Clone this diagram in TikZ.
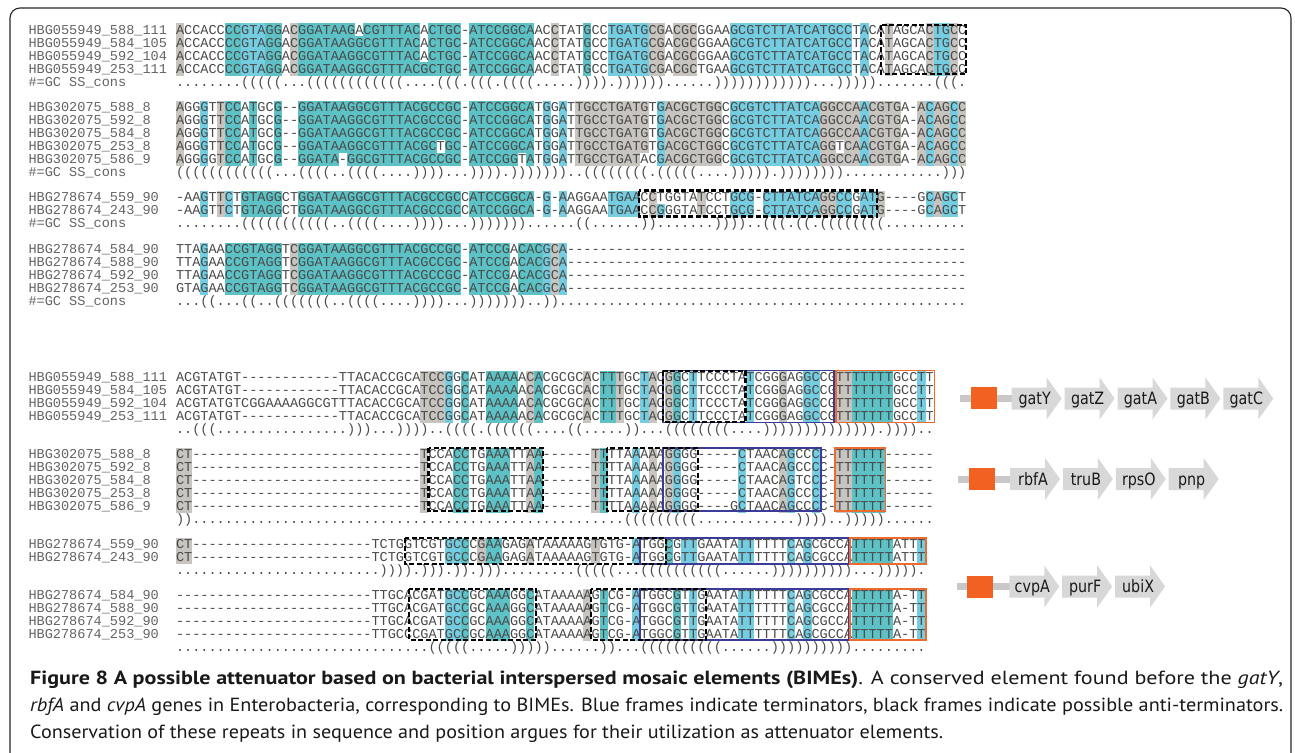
\documentclass[tikz,border=0pt]{standalone}
\usepackage{fontspec}
\setmonofont{Liberation Mono}
\newfontfamily\capfont{PT Sans}
\newfontfamily\genefont{DejaVu Sans}[FakeStretch=0.84]
\usepackage{graphicx}
\usetikzlibrary{calc}

\ExplSyntaxOn
\cs_new:Npn \seqrep #1#2 { \prg_replicate:nn {#1} {#2} }
\ExplSyntaxOff

\definecolor{shg}{HTML}{C8C5C1}
\definecolor{sht}{HTML}{5CC2C5}
\definecolor{shc}{HTML}{74CDE0}
\definecolor{shw}{HTML}{FFFFFF}
\definecolor{seqgrey}{HTML}{4A4A4A}
\definecolor{lblgrey}{HTML}{646464}
\definecolor{frameblue}{HTML}{3B3B98}
\definecolor{frameorange}{HTML}{EE6B2E}
\definecolor{genegrey}{HTML}{D8D8D8}
\definecolor{linegrey}{HTML}{C8C8C8}
\definecolor{boxorange}{HTML}{F26122}

\newcommand{\seqx}{175.8}
\newcommand{\cellw}{8.15}

\tikzset{
  seqtxt/.style={anchor=base west, inner sep=0pt, font=\ttfamily\fontsize{13.58}{14}\selectfont, text=seqgrey, yshift=-4.3pt},
  seqlbl/.style={seqtxt, text=lblgrey},
  antiframe/.style={draw=black, line width=2.2pt, dash pattern=on 5pt off 2.5pt},
  termframe/.style={draw=frameblue, line width=1.8pt},
  tailframe/.style={draw=frameorange, line width=1.8pt},
  genelbl/.style={anchor=base, inner sep=0pt, font=\genefont\fontsize{17}{17}\selectfont, text=black!90},
  caption/.style={anchor=base west, inner sep=0pt, font=\capfont\fontsize{19}{22}\selectfont, text=black!90},
}

% shading of alignment columns: top, bottom, list of colour/from/to
\newcommand{\shadecols}[3]{\foreach \clr/\ca/\cb in {#3} {\fill[sh\clr] (\seqx+\ca*\cellw,#1) rectangle (\seqx+\cb*\cellw+\cellw,#2);}}
\newcommand{\shadecell}[3]{\fill[sh#1] (\seqx+#2*\cellw,#3-6.5) rectangle ++(\cellw,13);}
% one alignment line: name, y, label, text
\newcommand{\seqline}[4]{%
  \node[seqlbl] (#1-id) at (28.3,#2) {#3};
  \node[seqtxt] (#1-seq) at (\seqx,#2) {#4};}
% gene arrows: y, first x, genes
\newcommand{\generow}[3]{%
  \foreach \g [count=\i from 0] in {#3} {
    \pgfmathsetmacro\gx{#2+52.9*\i}
    \fill[genegrey] (\gx,#1-11) -- ++(35,0) -- ++(0,-10) -- (\gx+50,#1) -- (\gx+35,#1+21) -- ++(0,-10) -- (\gx,#1+11) -- cycle;
    \node[genelbl] (\g) at (\gx+23,#1+6.2) {\g};
  }}
\newlength\fitw
\newcommand{\fitline}[2]{\settowidth{\fitw}{#2}\pgfmathsetmacro\fitsx{#1/\fitw}\scalebox{\fitsx}[1]{#2}}

\begin{document}
\begin{tikzpicture}[x=1pt,y=-1pt]
\useasboundingbox (0,0) rectangle (1295,752);
\fill[white] (0,0) rectangle (1295,752);
\draw[black!85, line width=1.1pt, rounded corners=10pt] (10,8) rectangle (1291,775);

% top alignments
\shadecols{23.5}{75.5}{g/0/0, t/6/7, c/8/10, t/11/12, g/14/14, t/15/29, t/31/34, t/36/43, g/46/46, t/50/50, c/53/57, g/58/59, g/61/63, c/68/82, c/84/84, g/87/87, g/92/92, c/93/94, g/95/95}
\shadecell{w}{22}{30}
\shadecell{t}{30}{69}
\shadecols{100.5}{165.5}{g/0/0, c/3/3, g/5/5, t/6/7, t/9/9, t/12/12, t/15/34, t/36/43, c/45/45, c/47/47, g/49/57, c/59/59, g/60/66, c/68/78, g/79/83, c/84/84, g/85/88, g/91/91, c/92/92, g/93/94, c/95/95, g/96/96}
\shadecell{w}{32}{146}
\shadecell{w}{81}{146}
\shadecell{w}{20}{159}
\shadecell{w}{42}{159}
\shadecell{w}{57}{159}
\shadecols{190.5}{216.5}{c/3/3, g/5/5, c/6/6, t/8/12, t/15/34, t/36/43, c/45/45, c/47/47, c/53/56, g/58/58, g/64/64, c/68/70, c/72/78, g/79/80, c/81/82, c/84/85, g/86/86, c/92/92, g/93/93, c/94/95}
\shadecell{c}{59}{210}
\shadecols{242.5}{294.5}{c/3/3, t/6/12, g/14/14, t/15/34, t/36/40, t/42/44, c/45/45, g/46/46, c/47/47}

\seqline{a1}{30}{HBG055949\_588\_111}{ACCACCCCGTAGGACGGATAAGACGTTTACACTGC-ATCCGGCAACCTATGCCTGATGCGACGCGGAAGCGTCTTATCATGCCTACATAGCACTGCC}
\seqline{a2}{43}{HBG055949\_584\_105}{ACCACCCCGTAGGACGGATAAGGCGTTTACACTGC-ATCCGGCAACCTATGCCTGATGCGACGCGGAAGCGTCTTATCATGCCTACATAGCACTGCC}
\seqline{a3}{56}{HBG055949\_592\_104}{ACCACCCCGTAGGACGGATAAGGCGTTTACACTGC-ATCCGGCAACCTATGCCTGATGCGACGCGGAAGCGTCTTATCATGCCTACATAGCACTGCC}
\seqline{a4}{69}{HBG055949\_253\_111}{ACCACCCCGTAGGACGGATAAGGCGTTTACGCTGC-ATCCGGCAACCTATGCCTGATGCGACGCTGAAGCGTCTTATCATGCCTACATAGCACTGCC}
\seqline{a5}{82}{\#=GC SS\_cons}{........(((((...((((((((((((....(((.(((.((((.....)))).))))))......))))))))))))...))))).......(((.}

\seqline{b1}{107}{HBG302075\_588\_8}{AGGGTTCCATGCG--GGATAAGGCGTTTACGCCGC-ATCCGGCATGGATTGCCTGATGTGACGCTGGCGCGTCTTATCAGGCCAACGTGA-ACAGCC}
\seqline{b2}{120}{HBG302075\_592\_8}{AGGGTTCCATGCG--GGATAAGGCGTTTACGCCGC-ATCCGGCATGGATTGCCTGATGTGACGCTGGCGCGTCTTATCAGGCCAACGTGA-ACAGCC}
\seqline{b3}{133}{HBG302075\_584\_8}{AGGGTTCCATGCG--GGATAAGGCGTTTACGCCGC-ATCCGGCATGGATTGCCTGATGTGACGCTGGCGCGTCTTATCAGGCCAACGTGA-ACAGCC}
\seqline{b4}{146}{HBG302075\_253\_8}{AGGGTTCCATGCG--GGATAAGGCGTTTACGCTGC-ATCCGGCATGGATTGCCTGATGTGACGCTGGCGCGTCTTATCAGGTCAACGTGA-ACAGCC}
\seqline{b5}{159}{HBG302075\_586\_9}{AGGGGTCCATGCG--GGATA-GGCGTTTACGCCGC-ATCCGGTATGGATTGCCTGATACGACGCTGGCGCGTCTTATCAGGCCAACGTGA-ACAGCC}
\seqline{b6}{172}{\#=GC SS\_cons}{((((((((((((...((((..((((....))))...)))).)))))))..((((((((.(((((....))))).))))))))............)))}

\seqline{c1}{197}{HBG278674\_559\_90}{-AAGTTCTGTAGGCTGGATAAGGCGTTTACGCCGCCATCCGGCA-G-AAGGAATGAACCTGGTATCCTGCG-CTTATCAGGCCGATG----GCAGCT}
\seqline{c2}{210}{HBG278674\_243\_90}{-AAGTTCTGTAGGCTGGATAAGGCGTTTACGCCGCCATCCGGCA-G-AAGGAATGAACCGGGTATCCTGCG-CTTATCAGGCCGATG----GCAGCT}
\seqline{c3}{223}{\#=GC SS\_cons}{........(((((((((((..((((....))))...)))))))......((......)).......))))..(((.((.((((((((..........}

\seqline{d1}{249}{HBG278674\_584\_90}{TTAGAACCGTAGGTCGGATAAGGCGTTTACGCCGC-ATCCGACACGCA\seqrep{49}{-}}
\seqline{d2}{262}{HBG278674\_588\_90}{TTAGAACCGTAGGTCGGATAAGGCGTTTACGCCGC-ATCCGACACGCA\seqrep{49}{-}}
\seqline{d3}{275}{HBG278674\_592\_90}{TTAGAACCGTAGGTCGGATAAGGCGTTTACGCCGC-ATCCGACACGCA\seqrep{49}{-}}
\seqline{d4}{288}{HBG278674\_253\_90}{GTAGAACCGTAGGTCGGATAAGGCGTTTACGCCGC-ATCCGACACGCA\seqrep{49}{-}}
\seqline{d5}{301}{\#=GC SS\_cons}{...((...((..(((((((..((((....))))...)))))))..))\seqrep{50}{.}}

\draw[antiframe] (881,25) rectangle (966,74);
\draw[antiframe] (639,190.5) rectangle (876.7,216.5);

% bottom alignments
\shadecols{370.5}{422.5}{g/30/32, c/33/33, t/35/35, t/38/41, g/43/43, t/44/44, g/50/50, t/52/53, g/54/54, c/57/57, g/58/58, g/60/60, t/61/61, c/63/63, c/70/70, g/74/74, c/77/78, g/81/82, t/83/87, c/91/91}
\shadecols{447.5}{512.5}{g/0/1, g/30/30, t/34/35, t/38/40, g/43/43, t/44/44, g/51/51, t/52/52, c/56/56, g/58/58, g/60/60, c/61/61, c/69/69, g/74/74, c/75/75, c/78/78, g/81/82, t/83/86}
\shadecols{537.5}{563.5}{g/0/1, c/33/34, t/35/35, g/37/37, t/38/39, g/43/43, g/51/51, c/56/56, t/60/60, c/62/63, c/69/70, c/75/75, c/77/77, t/83/87, c/91/91}
\shadecols{588.5}{640.5}{c/33/34, t/35/35, t/38/40, t/43/43, g/50/50, t/52/52, c/56/56, t/61/61, c/63/63, c/69/70, c/75/75, c/77/77, t/83/87, c/91/91}

\seqline{e1}{377}{HBG055949\_588\_111}{ACGTATGT\seqrep{12}{-}TTACACCGCATCCGGCATAAAAACACGCGCACTTTGCTACGGCTTCCCTATCGGGAGGCCGTTTTTTTGCCTT}
\seqline{e2}{390}{HBG055949\_584\_105}{ACGTATGT\seqrep{12}{-}TTACACCGCATCCGGCATAAAAACACGCGCACTTTGCTACGGCTTCCCTATCGGGAGGCCGTTTTTTTGCCTT}
\seqline{e3}{403}{HBG055949\_592\_104}{ACGTATGTCGGAAAAGGCGTTTACACCGCATCCGGCATAAAAACACGCGCACTTTGCTACGGCTTCCCTATCGGGAGGCCGTTTTTTTGCCTT}
\seqline{e4}{416}{HBG055949\_253\_111}{ACGTATGT\seqrep{12}{-}TTACACCGCATCCGGCATAAAAACACGCGCACTTTGCTACGGCTTCCCTATCGGGAGGCCGTTTTTTTGCCTT}
\seqline{e5}{429}{}{..(((\seqrep{16}{.})))...))))..((((.((((((....((.....))...((((((((....)))))))))))))).))))..}

\seqline{f1}{454}{HBG302075\_588\_8}{CT\seqrep{28}{-}TCCACCTGAAATTAA\seqrep{6}{-}TTTTAAAAAGGGG\seqrep{5}{-}CTAACAGCCCC-TTTTTT\seqrep{6}{-}}
\seqline{f2}{467}{HBG302075\_592\_8}{CT\seqrep{28}{-}TCCACCTGAAATTAA\seqrep{6}{-}TTTTAAAAAGGGG\seqrep{5}{-}CTAACAGCCCC-TTTTTT\seqrep{6}{-}}
\seqline{f3}{480}{HBG302075\_584\_8}{CT\seqrep{28}{-}TCCACCTGAAATTAA\seqrep{6}{-}TTTTAAAAAGGGG\seqrep{5}{-}CTAACAGTCCC-TTTTTT\seqrep{6}{-}}
\seqline{f4}{493}{HBG302075\_253\_8}{CT\seqrep{28}{-}TCCACCTGAAATTAA\seqrep{6}{-}TTTTAAAAAGGGG\seqrep{5}{-}CTAACAGCCCC-TTTTTT\seqrep{6}{-}}
\seqline{f5}{506}{HBG302075\_586\_9}{CT\seqrep{28}{-}TCCACCTGAAATTAA\seqrep{6}{-}TTTTAAAAAGGGG\seqrep{4}{-}GCTAACAGCCCC-TTTTTT\seqrep{6}{-}}
\seqline{f6}{519}{}{))\seqrep{53}{.}(((((((((\seqrep{12}{.}))))..)))))\seqrep{6}{.}}

\seqline{g1}{544}{HBG278674\_559\_90}{CT\seqrep{22}{-}TCTGGTCGTGCCCGAAGAGATAAAAAGTGTG-ATGGCGTTGAATATTTTTTCAGCGCCATTTTTATTT}
\seqline{g2}{557}{HBG278674\_243\_90}{CT\seqrep{22}{-}TCTGGTCGTGCCCGAAGAGATAAAAAGTGTG-ATGGCGTTGAATATTTTTTCAGCGCCATTTTTATTT}
\seqline{g3}{570}{}{\seqrep{25}{.})))).))).)).)))\seqrep{9}{.}(((((...((((((((((......))))))))))...))))).}

\seqline{h1}{595}{HBG278674\_584\_90}{\seqrep{24}{-}TTGCACGATGCCGCAAAGGCATAAAAAGTCG-ATGGCGTTGAATATTTTTTCAGCGCCATTTTTA-TT}
\seqline{h2}{608}{HBG278674\_588\_90}{\seqrep{24}{-}TTGCACGATGCCGCAAAGGCATAAAAAGTCG-ATGGCGTTGAATATTTTTTCAGCGCCATTTTTA-TT}
\seqline{h3}{621}{HBG278674\_592\_90}{\seqrep{24}{-}TTGCACGATGCCGCAAAGGCATAAAAAGTCG-ATGGCGTTGAATATTTTTTCAGCGCCATTTTTA-TT}
\seqline{h4}{634}{HBG278674\_253\_90}{\seqrep{24}{-}TTGCCCGATGCCGCAAAGGCATAAAAAGTCG-ATGGCGTTGAATATTTTTTCAGCGCCATTTTTA-TT}
\seqline{h5}{647}{}{\seqrep{31}{.}(((((.....)))))......))...((((((((((......))))))))))\seqrep{9}{.}}

% frames: terminators, anti-terminators, T tails
\draw[termframe] (663,370.5) rectangle (834,422.5);
\draw[antiframe] (663,371) rectangle (745.5,422);
\draw[tailframe] (836,370.5) rectangle (934.5,422.5);
\draw[termframe] (663,448) rectangle (821,511);
\draw[antiframe] (428.5,448) rectangle (543,511);
\draw[antiframe] (607,448) rectangle (698,511);
\draw[tailframe] (835,448) rectangle (885.5,511);
\draw[termframe] (640,538) rectangle (848.5,564);
\draw[antiframe] (405,538) rectangle (666,564);
\draw[tailframe] (850,538) rectangle (926,564);
\draw[termframe] (640,589) rectangle (848.5,640);
\draw[antiframe] (409,589) rectangle (536,640);
\draw[antiframe] (591,589) rectangle (706,640);
\draw[tailframe] (850,589) rectangle (926,640);

% operons
\draw[linegrey, line width=7pt] (960,398.5) -- (1013,398.5);
\fill[boxorange] (970.7,387) rectangle (996.7,408.5);
\generow{398.5}{1011.7}{gatY,gatZ,gatA,gatB,gatC}
\draw[linegrey, line width=7pt] (958,479) -- (1011,479);
\fill[boxorange] (969.3,467.5) rectangle (995,489.5);
\generow{479}{1010}{rbfA,truB,rpsO,pnp}
\draw[linegrey, line width=7pt] (956.7,586.5) -- (1010,586.5);
\fill[boxorange] (967.3,575.5) rectangle (993.3,597.5);
\generow{586.5}{1009.3}{cvpA,purF,ubiX}

% caption
\node[caption] (cap1) at (30,684) {\fitline{1253}{\textbf{Figure 8 A possible attenuator based on bacterial interspersed mosaic elements (BIMEs)}. A conserved element found before the \textit{gatY},}};
\node[caption] (cap2) at (30,711) {\fitline{1253}{\textit{rbfA} and \textit{cvpA} genes in Enterobacteria, corresponding to BIMEs. Blue frames indicate terminators, black frames indicate possible anti-terminators.}};
\node[caption] (cap3) at (30,738) {\fitline{913}{Conservation of these repeats in sequence and position argues for their utilization as attenuator elements.}};
\end{tikzpicture}
\end{document}
